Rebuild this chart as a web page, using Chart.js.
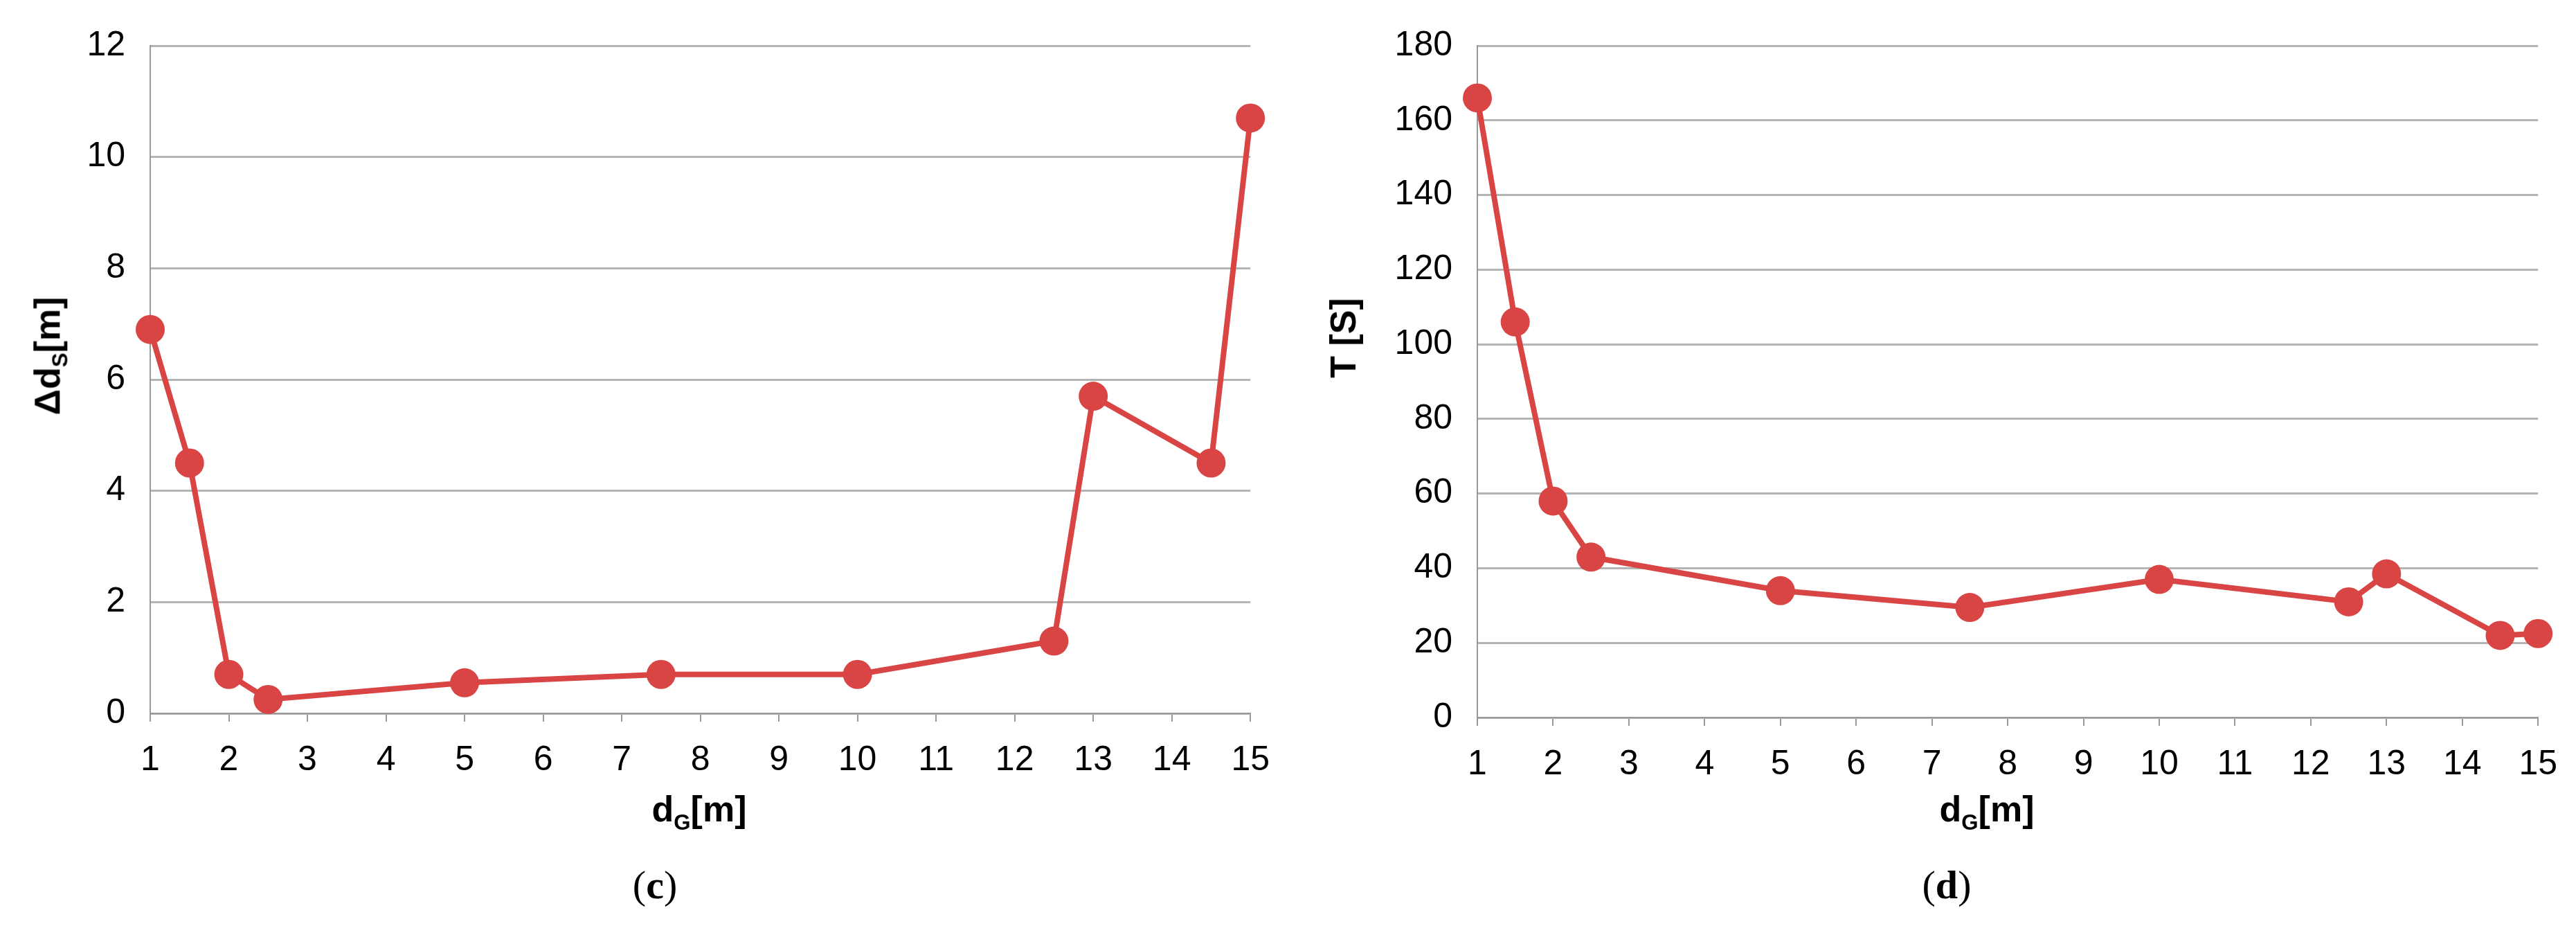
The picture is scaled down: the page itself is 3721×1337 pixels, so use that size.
<!DOCTYPE html>
<html>
<head>
<meta charset="utf-8">
<script src="https://cdn.jsdelivr.net/npm/chart.js@4.4.1/dist/chart.umd.min.js"></script>
<style>
  body { margin: 0; background: #fff; width: 3721px; height: 1337px; position: relative; overflow: hidden; }
  .box { position: absolute; top: 0; width: 1860px; height: 1337px; }
  .lbl { position: absolute; font-family: 'Liberation Sans Narrow', 'Liberation Sans', sans-serif; color: #000; white-space: nowrap; }
  .ttl { font-weight: bold; font-size: 52px; transform: translate(-50%, -50%); }
  .rot { transform: translate(-50%, -50%) rotate(-90deg); }
  .cap { font-family: 'Liberation Serif', serif; font-size: 58px; transform: translate(-50%, -50%); }
  sub { font-size: 0.6em; }
</style>
</head>
<body>
<div class="box" style="left:0"><canvas id="chartC"></canvas></div>
<div class="box" style="left:1860px"><canvas id="chartD"></canvas></div>

<div class="lbl ttl rot" style="left:72px; top:514px">Δd<sub>S</sub>[m]</div>
<div class="lbl ttl" style="left:1010px; top:1172px">d<sub>G</sub>[m]</div>
<div class="lbl cap" style="left:946px; top:1277px">(<b>c</b>)</div>

<div class="lbl ttl rot" style="left:1940px; top:488px">T [S]</div>
<div class="lbl ttl" style="left:2870px; top:1172px">d<sub>G</sub>[m]</div>
<div class="lbl cap" style="left:2812px; top:1277px">(<b>d</b>)</div>

<script>
const distG = [1, 1.5, 2, 2.5, 5, 7.5, 10, 12.5, 13, 14.5, 15];
const deltaDs = [6.9, 4.5, 0.7, 0.25, 0.55, 0.7, 0.7, 1.3, 5.7, 4.5, 10.7];
const timeT = [166, 106, 58, 43, 34, 29.5, 37, 31, 38.5, 22, 22.5];

const red = '#d94545';
const tickFont = { family: "'Liberation Sans Narrow', 'Liberation Sans', sans-serif", size: 50 };

function makeChart(id, yValues, yMax, yStep, plotLeft, plotTop, plotBottom, padRight) {
    const padBottom = 140;
    const ctx = document.getElementById(id).getContext('2d');
    return new Chart(ctx, {
        type: 'line',
        data: {
            datasets: [{
                data: distG.map((x, i) => ({ x: x, y: yValues[i] })),
                borderColor: red,
                backgroundColor: red,
                borderWidth: 8,
                pointRadius: 21,
                pointBackgroundColor: red,
                pointBorderWidth: 0,
                clip: false
            }]
        },
        options: {
            responsive: false,
            animation: false,
            devicePixelRatio: 1,
            layout: { padding: { left: 0, top: plotTop, right: padRight, bottom: padBottom } },
            plugins: { legend: { display: false }, tooltip: { enabled: false } },
            scales: {
                x: {
                    type: 'linear',
                    min: 1, max: 15,
                    ticks: { stepSize: 1, color: '#000', font: tickFont, padding: 26, maxRotation: 0 },
                    grid: { drawOnChartArea: false, drawTicks: true, tickLength: 12, color: '#999', lineWidth: 2 },
                    border: { color: '#999', width: 2 },
                    afterFit: s => { s.height = 1337 - plotBottom - padBottom; }
                },
                y: {
                    min: 0, max: yMax,
                    ticks: { stepSize: yStep, color: '#000', font: tickFont, padding: 36 },
                    grid: { drawTicks: false, color: '#b4b4b4', lineWidth: 3 },
                    border: { color: '#999', width: 2 },
                    afterFit: s => { s.width = plotLeft; }
                }
            }
        }
    });
}

['chartC', 'chartD'].forEach(id => {
    const c = document.getElementById(id);
    c.width = 1860; c.height = 1337;
    c.style.width = '1860px'; c.style.height = '1337px';
});

makeChart('chartC', deltaDs, 12, 2, 217, 43, 1030, 36);
makeChart('chartD', timeT, 180, 20, 274, 49, 1036, 39);
</script>
</body>
</html>
